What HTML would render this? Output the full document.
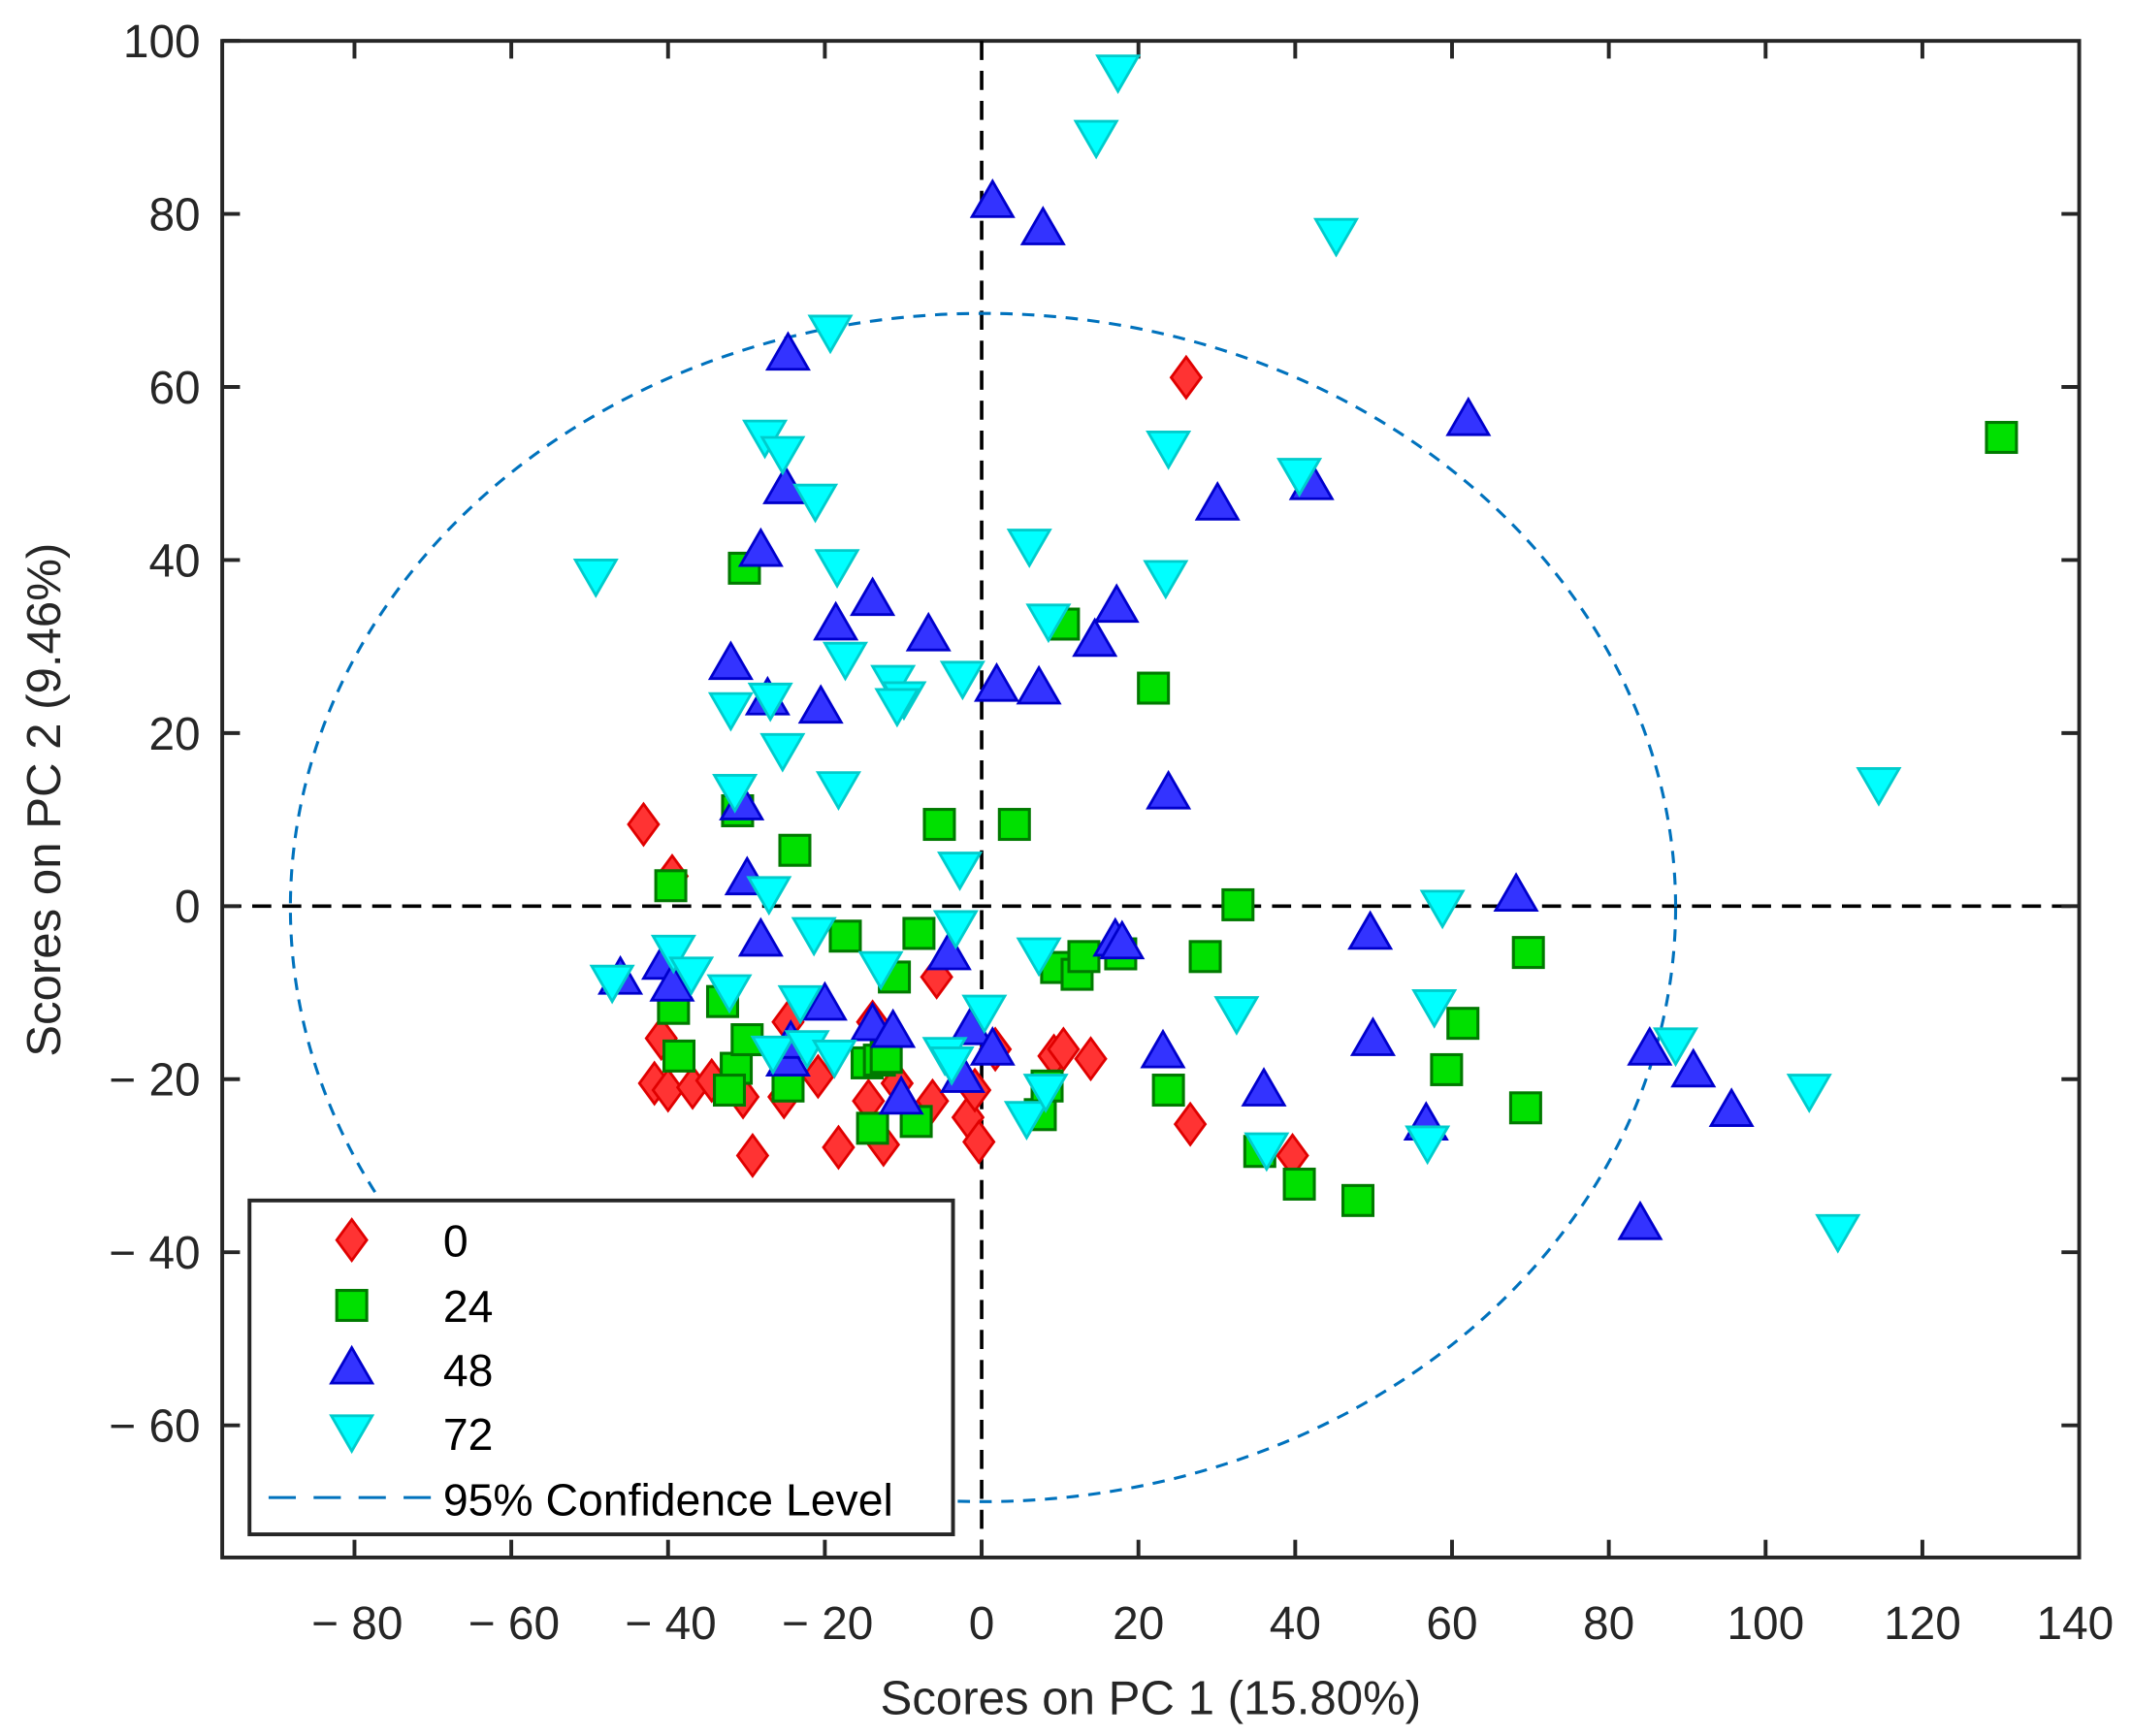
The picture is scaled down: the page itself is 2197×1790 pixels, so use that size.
<!DOCTYPE html>
<html><head><meta charset="utf-8"><style>
html,body{margin:0;padding:0;background:#fff;}
svg{display:block;}
text{font-family:"Liberation Sans",sans-serif;fill:#262626;}
</style></head><body>
<svg width="2197" height="1790" viewBox="0 0 1563 1274" preserveAspectRatio="none" xmlns="http://www.w3.org/2000/svg">
<defs>
<path id="rd" d="M0,-15 L11,0 L0,15 L-11,0 Z" fill="#ff3333" stroke="#e00000" stroke-width="2"/>
<rect id="gs" x="-11" y="-11" width="22" height="22" fill="#00e000" stroke="#007a00" stroke-width="2.2"/>
<path id="bt" d="M0,-15 L15,11 L-15,11 Z" fill="#3333ff" stroke="#0000cc" stroke-width="2"/>
<path id="cd" d="M0,15 L15,-11 L-15,-11 Z" fill="#00ffff" stroke="#00cccc" stroke-width="2"/>
</defs>
<rect x="163" y="30" width="1362" height="1113" fill="#fff" stroke="#262626" stroke-width="2.8"/>
<line x1="720" y1="30" x2="720" y2="1143" stroke="#000" stroke-width="2.6" stroke-dasharray="14,8"/>
<line x1="163" y1="665" x2="1525" y2="665" stroke="#000" stroke-width="2.6" stroke-dasharray="14,8"/>
<ellipse cx="721" cy="666" rx="508" ry="436" fill="none" stroke="#0072BD" stroke-width="2.2" stroke-dasharray="9,7"/>
<g stroke="#262626" stroke-width="2.8">
<line x1="260" y1="1143" x2="260" y2="1130"/><line x1="375" y1="1143" x2="375" y2="1130"/><line x1="490" y1="1143" x2="490" y2="1130"/><line x1="605" y1="1143" x2="605" y2="1130"/><line x1="720" y1="1143" x2="720" y2="1130"/><line x1="835" y1="1143" x2="835" y2="1130"/><line x1="950" y1="1143" x2="950" y2="1130"/><line x1="1065" y1="1143" x2="1065" y2="1130"/><line x1="1180" y1="1143" x2="1180" y2="1130"/><line x1="1295" y1="1143" x2="1295" y2="1130"/><line x1="1410" y1="1143" x2="1410" y2="1130"/>
<line x1="260" y1="30" x2="260" y2="43"/><line x1="375" y1="30" x2="375" y2="43"/><line x1="490" y1="30" x2="490" y2="43"/><line x1="605" y1="30" x2="605" y2="43"/><line x1="835" y1="30" x2="835" y2="43"/><line x1="950" y1="30" x2="950" y2="43"/><line x1="1065" y1="30" x2="1065" y2="43"/><line x1="1180" y1="30" x2="1180" y2="43"/><line x1="1295" y1="30" x2="1295" y2="43"/><line x1="1410" y1="30" x2="1410" y2="43"/>
<line x1="163" y1="30" x2="176" y2="30"/><line x1="163" y1="157" x2="176" y2="157"/><line x1="163" y1="284" x2="176" y2="284"/><line x1="163" y1="411" x2="176" y2="411"/><line x1="163" y1="538" x2="176" y2="538"/><line x1="163" y1="665" x2="176" y2="665"/><line x1="163" y1="792" x2="176" y2="792"/><line x1="163" y1="919" x2="176" y2="919"/><line x1="163" y1="1046" x2="176" y2="1046"/>
<line x1="1525" y1="157" x2="1512" y2="157"/><line x1="1525" y1="284" x2="1512" y2="284"/><line x1="1525" y1="411" x2="1512" y2="411"/><line x1="1525" y1="538" x2="1512" y2="538"/><line x1="1525" y1="665" x2="1512" y2="665"/><line x1="1525" y1="792" x2="1512" y2="792"/><line x1="1525" y1="919" x2="1512" y2="919"/><line x1="1525" y1="1046" x2="1512" y2="1046"/>
</g>
<g font-size="34" text-anchor="middle">
<text x="262" y="1203">− 80</text><text x="377" y="1203">− 60</text><text x="492" y="1203">− 40</text><text x="607" y="1203">− 20</text><text x="720" y="1203">0</text><text x="835" y="1203">20</text><text x="950" y="1203">40</text><text x="1065" y="1203">60</text><text x="1180" y="1203">80</text><text x="1295" y="1203">100</text><text x="1410" y="1203">120</text><text x="1522" y="1203">140</text>
</g>
<g font-size="34" text-anchor="end">
<text x="147" y="42">100</text><text x="147" y="169">80</text><text x="147" y="296">60</text><text x="147" y="423">40</text><text x="147" y="550">20</text><text x="147" y="677">0</text><text x="147" y="804">− 20</text><text x="147" y="931">− 40</text><text x="147" y="1058">− 60</text>
</g>
<text x="844" y="1258" font-size="35" text-anchor="middle">Scores on PC 1 (15.80%)</text>
<text transform="translate(44,587) rotate(-90)" font-size="35" text-anchor="middle">Scores on PC 2 (9.46%)</text>
<g>
<use href="#rd" x="472" y="605"/><use href="#rd" x="493" y="643"/><use href="#rd" x="485" y="762"/><use href="#rd" x="480" y="795"/><use href="#rd" x="490" y="800"/><use href="#rd" x="508" y="798"/><use href="#rd" x="522" y="793"/><use href="#rd" x="545" y="805"/><use href="#rd" x="552" y="848"/><use href="#rd" x="575" y="805"/><use href="#rd" x="578" y="750"/><use href="#rd" x="580" y="790"/><use href="#rd" x="600" y="790"/><use href="#rd" x="615" y="842"/><use href="#rd" x="637" y="808"/><use href="#rd" x="648" y="840"/><use href="#rd" x="658" y="795"/><use href="#rd" x="687" y="717"/><use href="#rd" x="684" y="808"/><use href="#rd" x="710" y="820"/><use href="#rd" x="718" y="838"/><use href="#rd" x="715" y="800"/><use href="#rd" x="730" y="770"/><use href="#rd" x="773" y="775"/><use href="#rd" x="780" y="770"/><use href="#rd" x="800" y="777"/><use href="#rd" x="870" y="277"/><use href="#rd" x="873" y="825"/><use href="#rd" x="948" y="848"/><use href="#rd" x="640" y="750"/>
</g>
<g>
<use href="#gs" x="546" y="417"/><use href="#gs" x="492" y="650"/><use href="#gs" x="494" y="740"/><use href="#gs" x="498" y="775"/><use href="#gs" x="530" y="735"/><use href="#gs" x="540" y="784"/><use href="#gs" x="535" y="800"/><use href="#gs" x="548" y="763"/><use href="#gs" x="578" y="797"/><use href="#gs" x="583" y="624"/><use href="#gs" x="620" y="687"/><use href="#gs" x="636" y="780"/><use href="#gs" x="645" y="778"/><use href="#gs" x="650" y="776"/><use href="#gs" x="656" y="717"/><use href="#gs" x="640" y="828"/><use href="#gs" x="672" y="823"/><use href="#gs" x="674" y="685"/><use href="#gs" x="689" y="605"/><use href="#gs" x="744" y="605"/><use href="#gs" x="775" y="710"/><use href="#gs" x="780" y="458"/><use href="#gs" x="790" y="715"/><use href="#gs" x="795" y="702"/><use href="#gs" x="822" y="700"/><use href="#gs" x="846" y="505"/><use href="#gs" x="857" y="800"/><use href="#gs" x="884" y="702"/><use href="#gs" x="908" y="664"/><use href="#gs" x="924" y="845"/><use href="#gs" x="953" y="869"/><use href="#gs" x="996" y="881"/><use href="#gs" x="1061" y="785"/><use href="#gs" x="1073" y="751"/><use href="#gs" x="1121" y="699"/><use href="#gs" x="1119" y="813"/><use href="#gs" x="1468" y="321"/><use href="#gs" x="763" y="818"/><use href="#gs" x="768" y="797"/><use href="#gs" x="541" y="595"/>
</g>
<g>
<use href="#bt" x="578" y="260"/><use href="#bt" x="576" y="358"/><use href="#bt" x="558" y="404"/><use href="#bt" x="563" y="513"/><use href="#bt" x="536" y="487"/><use href="#bt" x="544" y="590"/><use href="#bt" x="548" y="645"/><use href="#bt" x="558" y="690"/><use href="#bt" x="455" y="718"/><use href="#bt" x="487" y="707"/><use href="#bt" x="493" y="723"/><use href="#bt" x="578" y="778"/><use href="#bt" x="580" y="765"/><use href="#bt" x="605" y="737"/><use href="#bt" x="613" y="458"/><use href="#bt" x="602" y="519"/><use href="#bt" x="640" y="440"/><use href="#bt" x="681" y="466"/><use href="#bt" x="640" y="752"/><use href="#bt" x="655" y="757"/><use href="#bt" x="661" y="806"/><use href="#bt" x="696" y="700"/><use href="#bt" x="712" y="755"/><use href="#bt" x="706" y="790"/><use href="#bt" x="728" y="770"/><use href="#bt" x="728" y="148"/><use href="#bt" x="765" y="168"/><use href="#bt" x="731" y="503"/><use href="#bt" x="762" y="505"/><use href="#bt" x="803" y="470"/><use href="#bt" x="819" y="445"/><use href="#bt" x="818" y="690"/><use href="#bt" x="823" y="692"/><use href="#bt" x="853" y="772"/><use href="#bt" x="857" y="582"/><use href="#bt" x="893" y="370"/><use href="#bt" x="962" y="355"/><use href="#bt" x="1077" y="308"/><use href="#bt" x="1005" y="685"/><use href="#bt" x="1007" y="763"/><use href="#bt" x="927" y="800"/><use href="#bt" x="1046" y="825"/><use href="#bt" x="1112" y="657"/><use href="#bt" x="1210" y="770"/><use href="#bt" x="1242" y="786"/><use href="#bt" x="1270" y="815"/><use href="#bt" x="1203" y="898"/>
</g>
<g>
<use href="#cd" x="820" y="52"/><use href="#cd" x="804" y="100"/><use href="#cd" x="980" y="172"/><use href="#cd" x="609" y="243"/><use href="#cd" x="561" y="320"/><use href="#cd" x="574" y="332"/><use href="#cd" x="598" y="367"/><use href="#cd" x="437" y="422"/><use href="#cd" x="614" y="415"/><use href="#cd" x="857" y="328"/><use href="#cd" x="953" y="348"/><use href="#cd" x="755" y="400"/><use href="#cd" x="855" y="423"/><use href="#cd" x="769" y="455"/><use href="#cd" x="536" y="520"/><use href="#cd" x="565" y="513"/><use href="#cd" x="574" y="550"/><use href="#cd" x="620" y="483"/><use href="#cd" x="655" y="500"/><use href="#cd" x="663" y="512"/><use href="#cd" x="658" y="517"/><use href="#cd" x="706" y="497"/><use href="#cd" x="615" y="578"/><use href="#cd" x="539" y="580"/><use href="#cd" x="564" y="655"/><use href="#cd" x="597" y="685"/><use href="#cd" x="494" y="698"/><use href="#cd" x="507" y="714"/><use href="#cd" x="535" y="727"/><use href="#cd" x="449" y="720"/><use href="#cd" x="587" y="735"/><use href="#cd" x="567" y="772"/><use href="#cd" x="592" y="768"/><use href="#cd" x="612" y="775"/><use href="#cd" x="646" y="710"/><use href="#cd" x="701" y="680"/><use href="#cd" x="704" y="637"/><use href="#cd" x="722" y="742"/><use href="#cd" x="693" y="773"/><use href="#cd" x="698" y="780"/><use href="#cd" x="753" y="820"/><use href="#cd" x="767" y="800"/><use href="#cd" x="762" y="700"/><use href="#cd" x="907" y="743"/><use href="#cd" x="929" y="843"/><use href="#cd" x="1052" y="738"/><use href="#cd" x="1058" y="665"/><use href="#cd" x="1047" y="838"/><use href="#cd" x="1229" y="766"/><use href="#cd" x="1327" y="800"/><use href="#cd" x="1348" y="903"/><use href="#cd" x="1378" y="575"/>
</g>
<rect x="183" y="881" width="516" height="245" fill="#fff" stroke="#262626" stroke-width="2.8"/>
<use href="#rd" x="258" y="910"/>
<use href="#gs" x="258" y="958"/>
<use href="#bt" x="258" y="1004"/>
<use href="#cd" x="258" y="1050"/>
<line x1="197" y1="1099" x2="317" y2="1099" stroke="#0072BD" stroke-width="2.2" stroke-dasharray="20,13"/>
<g font-size="33">
<text x="325" y="922" style="fill:#000">0</text>
<text x="325" y="970" style="fill:#000">24</text>
<text x="325" y="1017" style="fill:#000">48</text>
<text x="325" y="1064" style="fill:#000">72</text>
<text x="325" y="1112" style="fill:#000">95% Confidence Level</text>
</g>
</svg>
</body></html>
